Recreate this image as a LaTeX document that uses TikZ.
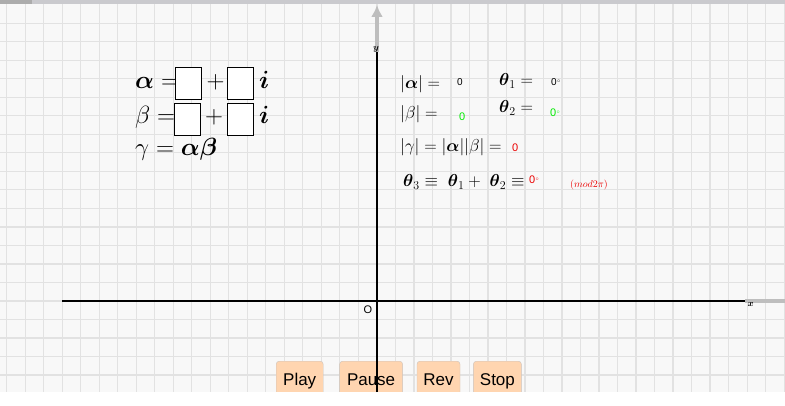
\documentclass[tikz,border=0pt]{standalone}
\usepackage{amsmath,latexsym,amssymb}
\usepackage{fontspec}
\setsansfont{Liberation Sans}
\usetikzlibrary{positioning,arrows.meta}
\definecolor{bgcol}{RGB}{248,248,248}
\definecolor{gridgray}{RGB}{226,226,226}
\definecolor{arrowgray}{RGB}{190,190,190}
\definecolor{barlight}{RGB}{202,202,206}
\definecolor{bardark}{RGB}{172,172,172}
\definecolor{btnfill}{RGB}{255,213,176}
\definecolor{btnedge}{RGB}{205,195,188}
\definecolor{valgreen}{RGB}{0,235,0}
\definecolor{valred}{RGB}{235,0,0}

\begin{document}
\begin{tikzpicture}[
			x=1pt, y=-1pt,
			gridline/.style = {draw=gridgray, line width=1.2pt},
			axis/.style = {line width=1.1pt},
			axisgray/.style = {draw=arrowgray, line width=3.5pt},
			blank/.style = {draw, fill=white, line width=0.8pt, minimum width=26pt, minimum height=32pt, inner sep=0pt, anchor=north west},
			big/.style = {anchor=base west, inner sep=0pt, font=\fontsize{23}{27}\selectfont},
			med/.style = {anchor=base west, inner sep=0pt, font=\fontsize{16.5}{19}\selectfont},
			val/.style = {anchor=base west, inner sep=0pt, font=\sffamily\fontsize{10}{12}\selectfont},
			tag/.style = {anchor=base west, inner sep=0pt, font=\fontsize{9}{10}\selectfont},
			btn/.style = {draw=btnedge, fill=btnfill, rounded corners=3pt, minimum height=40pt, inner sep=0pt,
				text height=12pt, text depth=3.5pt, font=\sffamily\fontsize{17}{20}\selectfont}
		]
		\useasboundingbox (0,0) rectangle (785,406);
		\fill[bgcol] (0,0) rectangle (785,392);
		\foreach \i in {0,...,42}
			\draw[gridline] ({6.7+18.51*\i},4) -- ({6.7+18.51*\i},392);
		\foreach \j in {1,...,20}
			\draw[gridline] (0,{4.8+18.51*\j}) -- (785,{4.8+18.51*\j});
		\fill[barlight] (0,0) rectangle (785,4.3);
		\fill[bardark] (0,0) rectangle (32,4.3);

		\node[btn, minimum width=47pt, anchor=north west] (play) at (276,361) {Play};
		\node[btn, minimum width=63pt] (pause) [right=16pt of play] {Pause};
		\node[btn, minimum width=43pt] (rev) [right=14pt of pause] {Rev};
		\node[btn, minimum width=48pt] (stop) [right=13pt of rev] {Stop};
		\fill[white] (0,392) rectangle (785,406);

		\coordinate (O) at (377,301);
		\coordinate (xl) at (62,301);
		\coordinate (xr) at (745,301);
		\coordinate (xe) at (785,301);
		\coordinate (yb) at (377,392);
		\coordinate (yt) at (377,52);
		\coordinate (ye) at (377,5);
		\draw[axisgray] (xr) -- (xe);
		\draw[axisgray, -{Latex[length=12pt,width=12pt]}] (yt) -- (ye);
		\draw[axis] (xl) -- (xr);
		\draw[axis] (yb) -- (yt);
		\node[tag] (xlab) at (747.5,306) {$\boldsymbol{x}$};
		\node[tag] (ylab) at (373,51) {$\boldsymbol{y}$};
		\node[val, font=\sffamily\fontsize{11}{12}\selectfont] (olab) at (363.5,313) {O};

		\node[big] (alab) at (135,89) {$\boldsymbol{\alpha} =$};
		\node[blank] (are) at (175,67) {};
		\node[big] (aplus) at (206.5,89) {$+$};
		\node[blank] (aim) at (227,67) {};
		\node[big] (ai) at (259,89) {$\boldsymbol{i}$};
		\node[big] (blab) at (135,124) {$\beta =$};
		\node[blank] (bre) at (174,103) {};
		\node[big] (bplus) at (205,124) {$+$};
		\node[blank] (bim) at (227,103) {};
		\node[big] (bi) at (259,124) {$\boldsymbol{i}$};
		\node[big] (glab) at (135,156) {$\gamma = \boldsymbol{\alpha\beta}$};

		\node[med] (amod) at (400,88.5) {$|\boldsymbol{\alpha}| =$};
		\node[val] (amodv) at (457,86) {0};
		\node[med] (th1) at (499,86) {$\boldsymbol{\theta}_1 =$};
		\node[val] (th1v) at (551,86) {0$^{\scriptscriptstyle\circ}$};
		\node[med] (bmod) at (400,118.5) {$|\beta| =$};
		\node[val, text=valgreen, font=\sffamily\fontsize{11}{12}\selectfont] (bmodv) at (459,121) {0};
		\node[med] (th2) at (499,113) {$\boldsymbol{\theta}_2 =$};
		\node[val, text=valgreen, font=\sffamily\fontsize{11}{12}\selectfont] (th2v) at (550,117) {0$^{\scriptscriptstyle\circ}$};
		\node[med] (gmod) at (400,152) {$|\gamma| = |\boldsymbol{\alpha}||\beta| =$};
		\node[val, text=valred, font=\sffamily\fontsize{11}{12}\selectfont] (gmodv) at (512,152) {0};
		\node[med] (th3) at (403,187) {$\boldsymbol{\theta}_3 \equiv\ \boldsymbol{\theta}_1 +\ \boldsymbol{\theta}_2 \equiv$};
		\node[val, text=valred, font=\sffamily\fontsize{11}{12}\selectfont] (th3v) at (529,184) {0$^{\scriptscriptstyle\circ}$};
		\node[tag, text=valred, font=\fontsize{10}{12}\selectfont] (modlab) at (570,188) {$(mod 2\pi)$};
	\end{tikzpicture}
\end{document}
